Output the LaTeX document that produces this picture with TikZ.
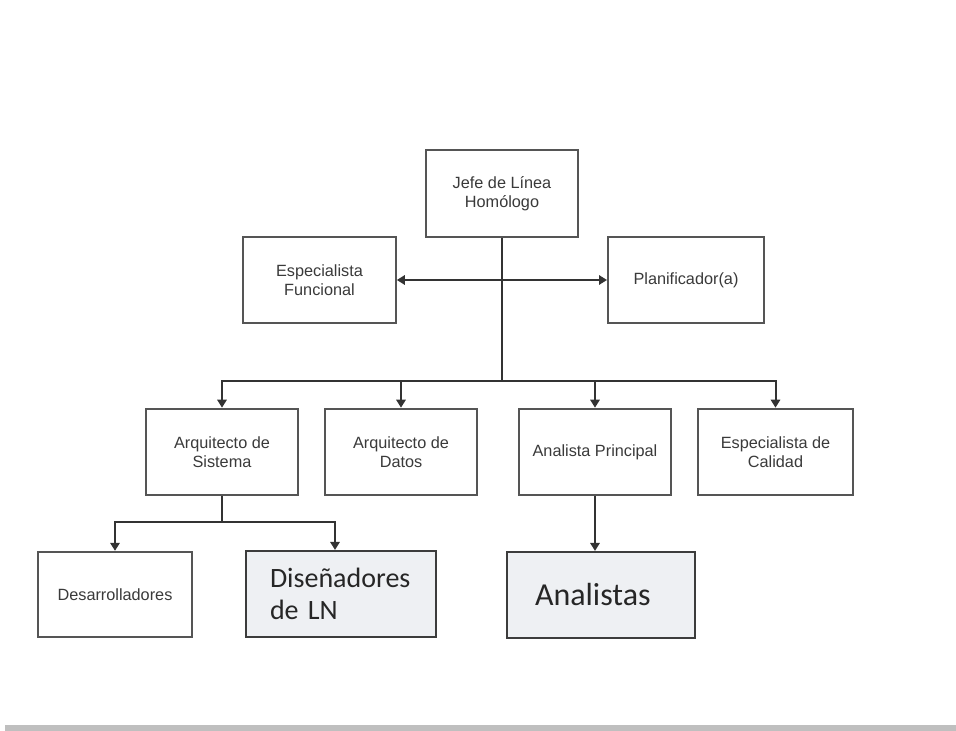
\documentclass[tikz,border=0pt]{standalone}
\usepackage{fontspec}
\setmainfont{Liberation Sans}
\newfontfamily\boxfont{Carlito}
\usetikzlibrary{arrows.meta}
\definecolor{boxline}{HTML}{555555}
\definecolor{darkline}{HTML}{3C3C3C}
\definecolor{txt}{HTML}{3A3A3A}
\definecolor{soft}{HTML}{EEF0F3}
\definecolor{bar}{HTML}{BFBFBF}
\begin{document}
\begin{tikzpicture}[x=0.75pt,y=-0.75pt,
  role/.style={draw=boxline,line width=1.5pt,fill=white,text=txt,align=center,
    minimum width=114.5pt,minimum height=65pt,inner sep=0pt,
    font=\fontsize{12.2}{14.3}\selectfont},
  team/.style={draw=darkline,line width=1.6pt,fill=soft,text=black!85,align=left,
    minimum height=64.5pt,inner sep=0pt},
  link/.style={draw=black!80,line width=1.5pt},
  arr/.style={link,-{Triangle[length=6pt,width=7pt]}}]
\useasboundingbox (0,0) rectangle (956,731);
\fill[bar] (5,725) rectangle (956,731);

% top and staff positions
\node[role,minimum width=114pt] (jefe) at (502,193.5) {Jefe de Línea\\Homólogo};
\node[role] (esp) at (319.5,280) {Especialista\\Funcional};
\node[role,minimum width=117pt] (plan) at (686,280) {Planificador(a)};

% second level
\node[role] (arqs) at (222,452) {Arquitecto de\\Sistema};
\node[role] (arqd) at (401,452) {Arquitecto de\\Datos};
\node[role] (anp) at (595,452) {Analista Principal};
\node[role,minimum width=116pt] (cal) at (775.5,452) {Especialista de\\Calidad};

% third level
\node[role,minimum width=115.5pt,minimum height=64pt] (des) at (115,594.5) {Desarrolladores};
\node[team,minimum width=142.5pt,text width=106.5pt,
  font=\boxfont\fontsize{21}{24}\selectfont] (dis) at (341,594) {Diseñadores\\de LN};
\node[team,minimum width=141pt,text width=99pt,
  font=\boxfont\fontsize{24}{28}\selectfont] (ana) at (601,595) {Analistas};

% connectors
\coordinate (j) at (502,381);
\coordinate (s) at (502,280);
\draw[link,line width=2pt] (jefe.south) -- (j);
\draw[arr] (s) -- (esp.east);
\draw[arr] (s) -- (plan.west);
\draw[arr] (j) -| (arqs.north);
\draw[arr] (j) -| (arqd.north);
\draw[arr] (j) -| (anp.north);
\draw[arr] (j) -| (cal.north);
\coordinate (k) at (222,522);
\draw[link] (arqs.south) -- (k);
\draw[arr] (k) -| (des.north);
\draw[arr] (k) -| ([xshift=-4.5pt]dis.north);
\draw[arr] (anp.south) -- (anp.south |- ana.north);
\end{tikzpicture}
\end{document}
